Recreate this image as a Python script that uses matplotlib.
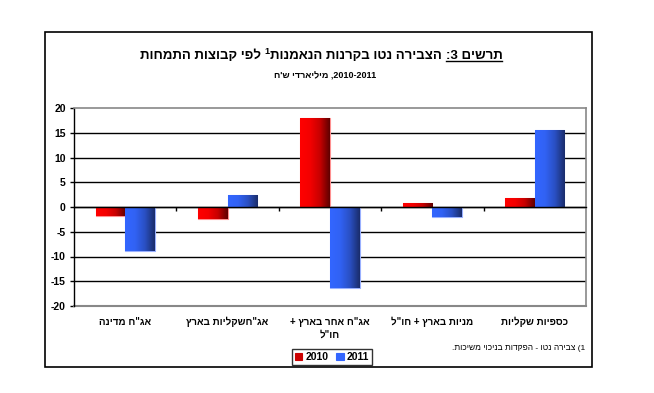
import numpy as np
import matplotlib
matplotlib.use('Agg')
import matplotlib.pyplot as plt
from matplotlib.colors import LinearSegmentedColormap
from matplotlib.patches import Rectangle
from matplotlib.lines import Line2D
import matplotlib.transforms as mtransforms

plt.rcParams['font.family'] = ['Liberation Sans', 'DejaVu Sans']
plt.rcParams['axes.unicode_minus'] = False

# data, category order is left to right as drawn
categories = ['אג"ח מדינה', 'אג"חשקליות בארץ', 'אג"ח אחר בארץ +\nחו"ל',
              'מניות בארץ + חו"ל', 'כספיות שקליות']
values_2010 = [-1.9, -2.4, 17.9, 0.9, 1.8]
values_2011 = [-8.9, 2.4, -16.3, -2.1, 15.6]
years = ['2010', '2011']
yticks = [-20, -15, -10, -5, 0, 5, 10, 15, 20]


def vis(s):
    # matplotlib has no bidi: turn logical hebrew into visual order
    mirror = {'(': ')', ')': '('}
    return ''.join(mirror.get(c, c) for c in s[::-1])


W, H = 654, 393
fig = plt.figure(figsize=(W / 100, H / 100), dpi=100)

# outer frame of the chart
fig.patches.append(Rectangle((45 / W, 1 - 367 / H), 547 / W, 335 / H,
                             transform=fig.transFigure, fill=False,
                             edgecolor='black', linewidth=1.2))

ax = fig.add_axes([74 / W, 1 - 306 / H, 512 / W, 198 / H])

x = np.arange(len(categories))
w = 0.29
red_cmap = LinearSegmentedColormap.from_list('r', ['#ff0000', '#f40000', '#c80000', '#600000'])
blue_cmap = LinearSegmentedColormap.from_list('b', ['#3366ff', '#3162f4', '#2a50c4', '#1a2d6c'])

bars1 = ax.bar(x - w / 2, values_2010, w, color='#dd0000', edgecolor='#ff9090',
               linewidth=0.8, zorder=3, label=years[0])
bars2 = ax.bar(x + w / 2, values_2011, w, color='#3366ff', edgecolor='#99b0ff',
               linewidth=0.8, zorder=3, label=years[1])

grad = np.linspace(0, 1, 64).reshape(1, -1)
for bars, cmap in ((bars1, red_cmap), (bars2, blue_cmap)):
    for b in bars:
        x0, y0 = b.get_x(), b.get_y()
        im = ax.imshow(grad, extent=[x0, x0 + b.get_width(), y0, y0 + b.get_height()],
                       cmap=cmap, aspect='auto', zorder=3.5, interpolation='bilinear')
        im.set_clip_path(b)

ax.set_xlim(-0.5, len(categories) - 0.5)
ax.set_ylim(yticks[0], yticks[-1])

# black gridlines inside, gray border around the plot area
ax.hlines(yticks[1:-1], -0.5, len(categories) - 0.5, color='black', linewidth=1.0, zorder=1)
for s in ('top', 'right'):
    ax.spines[s].set_color('#888888')
    ax.spines[s].set_linewidth(1.2)
ax.spines['left'].set_color('black')
ax.spines['left'].set_linewidth(1.0)
ax.spines['bottom'].set_position(('data', 0))
ax.spines['bottom'].set_color('black')
ax.spines['bottom'].set_linewidth(1.0)
ax.spines['bottom'].set_zorder(4)
ax.axhline(yticks[0], color='#888888', linewidth=1.5, clip_on=False)

ax.set_yticks(yticks)
ax.set_yticklabels([str(t) for t in yticks], fontsize=7.5, fontweight='bold')
ax.tick_params(axis='y', length=3, width=1, pad=3)
ax.set_xticks(np.arange(len(categories) - 1) + 0.5)
ax.set_xticklabels([])
ax.tick_params(axis='x', length=3, width=1, direction='out')

trans = mtransforms.blended_transform_factory(ax.transData, ax.transAxes)
for i, c in enumerate(categories):
    label = '\n'.join(vis(line) for line in c.split('\n'))
    ax.text(i, -0.055, label, transform=trans, ha='center', va='top',
            fontsize=7, fontweight='bold', linespacing=1.3)

# title, built from pieces in visual order (left to right)
r = fig.canvas.get_renderer()
pieces = [
    (vis('לפי קבוצות התמחות'), 9.5, 0, False),
    ('1', 6.5, 5, False),
    (vis('הצבירה נטו בקרנות הנאמנות'), 9.5, 0, False),
    (vis('תרשים 3:'), 9.5, 0, True),
]
gaps = [4, 0, 4, 0]
base_y = 59
texts = []
total = 0
for (s, size, dy, ul), g in zip(pieces, gaps):
    t = fig.text(0, 1 - (base_y - dy) / H, s, fontsize=size, fontweight='bold',
                 va='baseline', ha='left')
    wpx = t.get_window_extent(r).width
    texts.append((t, wpx, ul))
    total += wpx + g
xpos = 321 - total / 2
for (t, wpx, ul), g in zip(texts, gaps):
    t.set_x(xpos / W)
    if ul:
        fig.lines.append(Line2D([xpos / W, (xpos + wpx) / W], [1 - (base_y + 2) / H] * 2,
                                transform=fig.transFigure, color='black', linewidth=1.0))
    xpos += wpx + g

# subtitle: logical "2010-2011, מיליארדי ש'ח" in a right-to-left line
fig.text(325 / W, 1 - 79 / H, vis("מיליארדי ש'ח") + ' ,' + '2010-2011', fontsize=6.5,
         fontweight='bold', ha='center', va='baseline')

# footnote
fig.text(585 / W, 1 - 348 / H, vis('1) צבירה נטו - הפקדות בניכוי משיכות.'),
         fontsize=6, ha='right', va='center')

leg = fig.legend(handles=[bars1, bars2], labels=years, loc='center',
                 bbox_to_anchor=(332 / W, 1 - 357 / H), ncol=2,
                 prop={'weight': 'bold', 'size': 7.5}, frameon=True, fancybox=False,
                 handlelength=0.7, handleheight=0.7, handletextpad=0.3,
                 columnspacing=0.8, borderpad=0.25, borderaxespad=0)
leg.get_frame().set_edgecolor('black')
leg.get_frame().set_linewidth(1.0)
for h, c in zip(leg.legend_handles, ['#cc0000', '#3366ff']):
    h.set_facecolor(c)
    h.set_edgecolor(c)

fig.savefig('out.png', dpi=100)
